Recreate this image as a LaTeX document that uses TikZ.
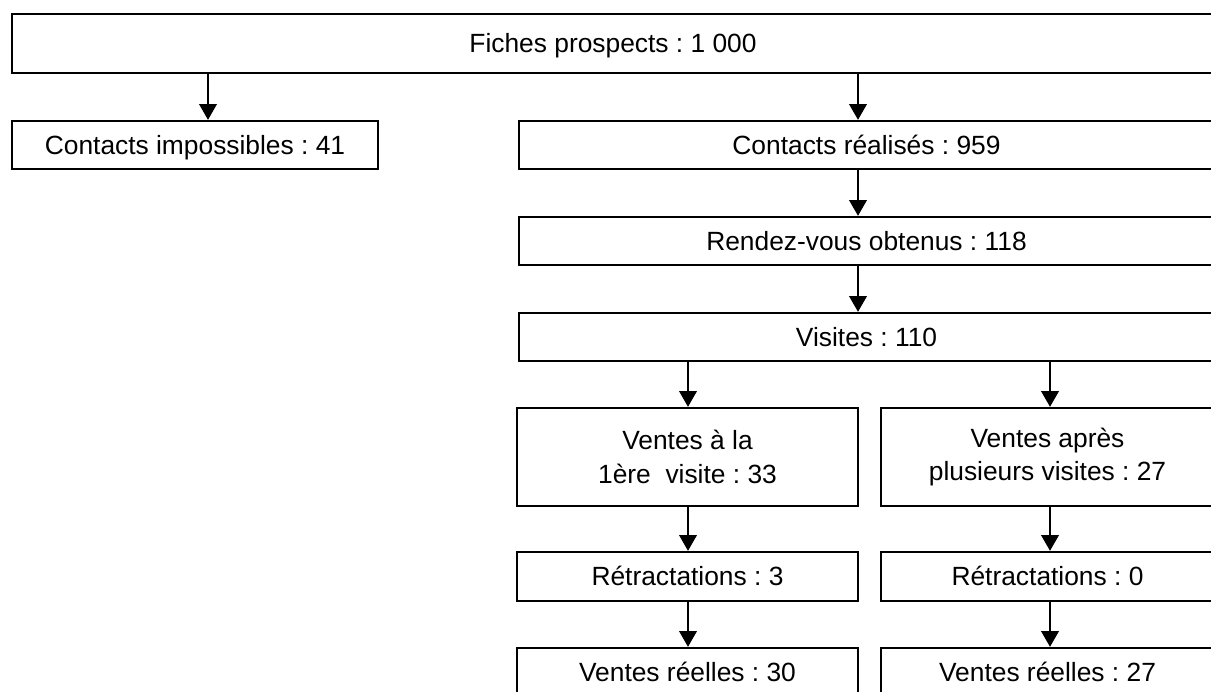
\documentclass[tikz,border=0pt]{standalone}
\usepackage{fontspec}
\setmainfont{Liberation Sans}
\usetikzlibrary{arrows.meta}
\frenchspacing

\begin{document}
\begin{tikzpicture}[
            every node/.style={font=\fontsize{15}{19}\selectfont},
            box/.style={draw, line width=1.3pt, inner sep=0pt, align=center, minimum height=0.96cm},
            oneline/.style={box, text height=10.7pt, text depth=0pt},
            arr/.style={-{Triangle[width=10pt,length=9pt]}, line width=1.1pt}
        ]

        \useasboundingbox (0,0) rectangle (24.22,-13.82);

        % axes of the arrows
        \coordinate (axisA) at (4.16,0);
        \coordinate (axisB) at (17.16,0);
        \coordinate (axisL) at (13.76,0);
        \coordinate (axisR) at (21.00,0);

        \node[oneline, minimum width=24.04cm, minimum height=1.18cm] (fiches) at (12.26,-0.87) {Fiches prospects : 1 000};

        \node[oneline, minimum width=7.32cm] (impossibles) at (3.90,-2.90) {Contacts impossibles : 41};
        \node[oneline, minimum width=13.90cm] (realises) at (17.33,-2.90) {Contacts réalisés : 959};
        \node[oneline, minimum width=13.90cm] (rdv) at (17.33,-4.82) {Rendez-vous obtenus : 118};
        \node[oneline, minimum width=13.90cm] (visites) at (17.33,-6.74) {Visites : 110};

        \node[box, minimum width=6.82cm, minimum height=1.96cm] (ventesA) at (13.75,-9.14) {Ventes à la\\1ère\ \ visite : 33};
        \node[box, minimum width=6.66cm, minimum height=1.96cm] (ventesB) at (20.95,-9.14) {Ventes après\\plusieurs visites : 27};

        \node[oneline, minimum width=6.82cm, minimum height=0.98cm] (retractA) at (13.75,-11.53) {Rétractations : 3};
        \node[oneline, minimum width=6.66cm, minimum height=0.98cm] (retractB) at (20.95,-11.53) {Rétractations : 0};

        \node[oneline, minimum width=6.82cm, minimum height=0.98cm] (reellesA) at (13.75,-13.45) {Ventes réelles : 30};
        \node[oneline, minimum width=6.66cm, minimum height=0.98cm] (reellesB) at (20.95,-13.45) {Ventes réelles : 27};

        \draw[arr] (fiches.south -| axisA) -- (impossibles.north -| axisA);
        \draw[arr] (fiches.south -| axisB) -- (realises.north -| axisB);
        \draw[arr] (realises.south -| axisB) -- (rdv.north -| axisB);
        \draw[arr] (rdv.south -| axisB) -- (visites.north -| axisB);

        \draw[arr] (visites.south -| axisL) -- (ventesA.north -| axisL);
        \draw[arr] (visites.south -| axisR) -- (ventesB.north -| axisR);
        \draw[arr] (ventesA.south -| axisL) -- (retractA.north -| axisL);
        \draw[arr] (ventesB.south -| axisR) -- (retractB.north -| axisR);
        \draw[arr] (retractA.south -| axisL) -- (reellesA.north -| axisL);
        \draw[arr] (retractB.south -| axisR) -- (reellesB.north -| axisR);

    \end{tikzpicture}
\end{document}
